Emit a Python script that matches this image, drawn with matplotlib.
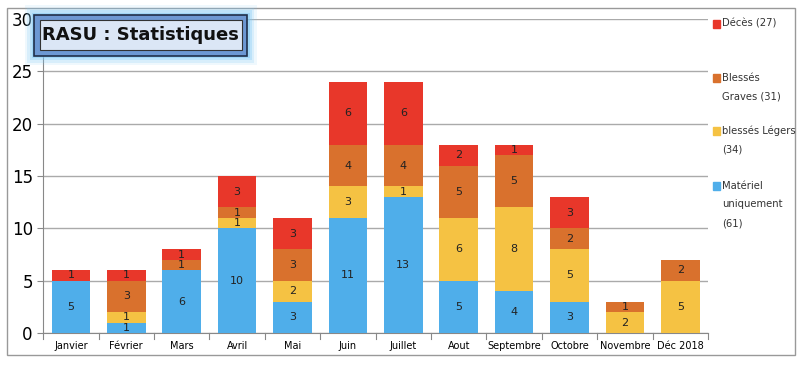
import matplotlib.pyplot as plt
import matplotlib.patches as mpatches
import numpy as np

mois = ["Janvier", "Février", "Mars", "Avril", "Mai", "Juin", "Juillet",
        "Aout", "Septembre", "Octobre", "Novembre", "Déc 2018"]
materiel = [5, 1, 6, 10, 3, 11, 13, 5, 4, 3, 0, 0]
legers = [0, 1, 0, 1, 2, 3, 1, 6, 8, 5, 2, 5]
graves = [0, 3, 1, 1, 3, 4, 4, 5, 5, 2, 1, 2]
deces = [1, 1, 1, 3, 3, 6, 6, 2, 1, 3, 0, 0]

series = [
    (["Matériel", "uniquement", "(61)"], materiel, "#4faeea"),
    (["blessés Légers", "(34)"], legers, "#f5c243"),
    (["Blessés", "Graves (31)"], graves, "#d9712d"),
    (["Décès (27)"], deces, "#e8372a"),
]

fig = plt.figure(figsize=(8, 3.71), dpi=100)
ax = fig.add_axes([0.054, 0.1024, 0.831, 0.8464])

x = np.arange(len(mois))
bottom = np.zeros(len(mois))
for nom, vals, col in series:
    vals = np.array(vals)
    ax.bar(x, vals, 0.7, bottom=bottom, color=col, zorder=3)
    for i in range(len(mois)):
        if vals[i] > 0:
            ax.text(x[i], bottom[i] + vals[i] / 2, str(vals[i]), ha="center",
                    va="center", fontsize=8, color="#222222", zorder=4)
    bottom = bottom + vals

ax.set_xlim(-0.5, 11.5)
ax.set_ylim(0, 30)
ax.set_yticks(range(0, 31, 5))
ax.set_xticks(x)
ax.set_xticklabels(mois, fontsize=7)
ax.tick_params(axis="y", labelsize=12, length=4, color="#888888")
ax.tick_params(axis="x", length=0, pad=6)
for k in range(13):
    ax.plot([k - 0.5, k - 0.5], [0, -0.6], color="#888888", lw=0.8,
            clip_on=False, zorder=2)
ax.grid(axis="y", color="#aaaaaa", lw=1, zorder=0)
for s in ["top", "right"]:
    ax.spines[s].set_visible(False)
ax.spines["left"].set_color("#888888")
ax.spines["bottom"].set_color("#888888")

# légende à droite (centres en pixels depuis le haut)
centres = [24, 78, 131, 186]
for (lignes, vals, col), c in zip(reversed(series), centres):
    yy = 1 - c / 371
    fig.patches.append(mpatches.Rectangle((0.891, yy - 0.011), 0.009, 0.022,
                                          transform=fig.transFigure, color=col))
    for j, t in enumerate(lignes):
        fig.text(0.903, yy - j * 18.5 / 371, t, fontsize=7.2, va="center",
                 ha="left", color="#333333")

# cadre extérieur
fig.patches.append(mpatches.Rectangle((0.009, 0.043), 0.985, 0.935,
                                      transform=fig.transFigure, fill=False,
                                      ec="#999999", lw=1))

# titre dans une boîte avec halo
for k, a in enumerate([0.12, 0.2, 0.3, 0.45]):
    d = 0.012 - k * 0.003
    fig.patches.append(mpatches.Rectangle((0.043 - d, 0.85 - d * 2.1),
                                          0.266 + 2 * d, 0.11 + d * 4.2,
                                          transform=fig.transFigure,
                                          color="#7ec8f5", alpha=a, lw=0))
fig.patches.append(mpatches.Rectangle((0.043, 0.85), 0.266, 0.11,
                                      transform=fig.transFigure,
                                      fc="#6d98d3", ec="#1f2f4a", lw=1.2))
fig.patches.append(mpatches.Rectangle((0.05, 0.865), 0.252, 0.08,
                                      transform=fig.transFigure,
                                      fc="#dbe6f6", ec="#333333", lw=0.8))
fig.text(0.176, 0.905, "RASU : Statistiques", fontsize=13, fontweight="bold",
         ha="center", va="center", color="#111111")

fig.savefig("out.png", dpi=100)
